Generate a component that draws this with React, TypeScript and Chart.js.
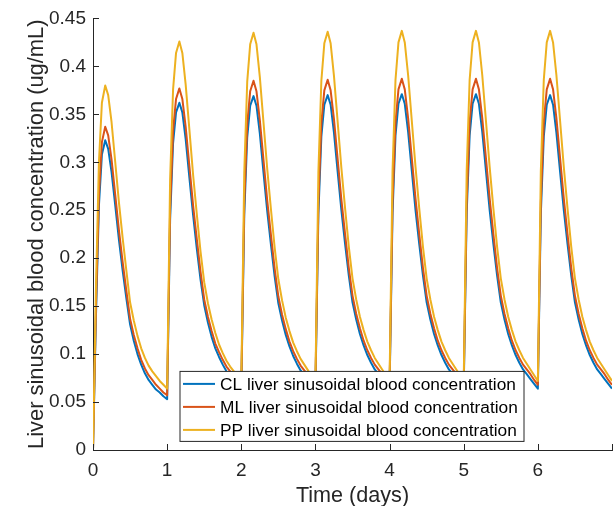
import React, { useEffect, useRef } from 'react';
import { Chart, registerables } from 'chart.js';

Chart.register(...registerables);

// Time offsets (days) within each daily dosing cycle
const cycleOffsets = [0, 0.04, 0.08, 0.12, 0.165, 0.205, 0.25, 0.3, 0.35, 0.4, 0.45, 0.5, 0.55, 0.6, 0.65, 0.7, 0.75, 0.8, 0.85, 0.9, 0.95];
const doseDays = [0, 1, 2, 3, 4, 5, 6];
const endDay = 7;

// CL liver sinusoidal blood concentration (ug/mL), one row per day
const clByDay = [
  [0, 0.14, 0.255, 0.308, 0.323, 0.314, 0.29, 0.255, 0.219, 0.187, 0.158, 0.131, 0.114, 0.1, 0.089, 0.08, 0.073, 0.068, 0.063, 0.06, 0.056],
  [0.053, 0.24, 0.32, 0.352, 0.362, 0.352, 0.324, 0.284, 0.245, 0.21, 0.178, 0.151, 0.133, 0.118, 0.106, 0.097, 0.089, 0.082, 0.077, 0.072, 0.067],
  [0.062, 0.245, 0.326, 0.359, 0.369, 0.359, 0.33, 0.289, 0.249, 0.214, 0.181, 0.153, 0.135, 0.12, 0.108, 0.098, 0.09, 0.083, 0.078, 0.073, 0.068],
  [0.064, 0.246, 0.327, 0.36, 0.37, 0.36, 0.331, 0.29, 0.25, 0.215, 0.182, 0.154, 0.136, 0.121, 0.109, 0.099, 0.091, 0.084, 0.079, 0.074, 0.069],
  [0.064, 0.247, 0.328, 0.361, 0.371, 0.361, 0.332, 0.291, 0.25, 0.215, 0.182, 0.154, 0.136, 0.121, 0.109, 0.099, 0.091, 0.084, 0.079, 0.074, 0.069],
  [0.064, 0.247, 0.328, 0.361, 0.371, 0.361, 0.332, 0.291, 0.25, 0.215, 0.182, 0.154, 0.136, 0.121, 0.109, 0.099, 0.091, 0.084, 0.079, 0.074, 0.069],
  [0.064, 0.246, 0.327, 0.36, 0.37, 0.36, 0.331, 0.29, 0.25, 0.215, 0.182, 0.154, 0.136, 0.121, 0.109, 0.099, 0.091, 0.084, 0.079, 0.074, 0.069],
];
const clEnd = 0.064;

// ML liver sinusoidal blood concentration
const mlByDay = [
  [0, 0.15, 0.266, 0.321, 0.337, 0.328, 0.303, 0.266, 0.229, 0.196, 0.166, 0.137, 0.12, 0.106, 0.094, 0.085, 0.078, 0.073, 0.068, 0.064, 0.06],
  [0.057, 0.251, 0.333, 0.366, 0.377, 0.366, 0.337, 0.296, 0.255, 0.22, 0.186, 0.157, 0.139, 0.124, 0.111, 0.102, 0.094, 0.087, 0.082, 0.077, 0.071],
  [0.066, 0.256, 0.34, 0.374, 0.385, 0.374, 0.344, 0.302, 0.26, 0.224, 0.189, 0.16, 0.141, 0.126, 0.113, 0.103, 0.095, 0.088, 0.083, 0.078, 0.072],
  [0.068, 0.257, 0.341, 0.375, 0.386, 0.375, 0.345, 0.303, 0.261, 0.225, 0.19, 0.161, 0.142, 0.127, 0.114, 0.104, 0.096, 0.089, 0.084, 0.079, 0.073],
  [0.068, 0.258, 0.342, 0.376, 0.387, 0.376, 0.346, 0.304, 0.262, 0.225, 0.19, 0.161, 0.142, 0.127, 0.114, 0.104, 0.096, 0.089, 0.084, 0.079, 0.073],
  [0.068, 0.258, 0.342, 0.376, 0.387, 0.376, 0.346, 0.304, 0.262, 0.225, 0.19, 0.161, 0.142, 0.127, 0.114, 0.104, 0.096, 0.089, 0.084, 0.079, 0.073],
  [0.068, 0.258, 0.342, 0.376, 0.387, 0.376, 0.346, 0.304, 0.262, 0.225, 0.19, 0.161, 0.142, 0.127, 0.114, 0.104, 0.096, 0.089, 0.084, 0.079, 0.073],
];
const mlEnd = 0.068;

// PP liver sinusoidal blood concentration
const ppByDay = [
  [0, 0.17, 0.3, 0.362, 0.38, 0.37, 0.342, 0.3, 0.258, 0.221, 0.187, 0.154, 0.135, 0.119, 0.106, 0.096, 0.088, 0.082, 0.077, 0.072, 0.068],
  [0.064, 0.282, 0.376, 0.414, 0.426, 0.414, 0.381, 0.334, 0.287, 0.246, 0.207, 0.175, 0.153, 0.136, 0.122, 0.11, 0.101, 0.093, 0.087, 0.082, 0.076],
  [0.07, 0.289, 0.384, 0.423, 0.435, 0.423, 0.389, 0.341, 0.293, 0.251, 0.211, 0.178, 0.156, 0.138, 0.124, 0.112, 0.103, 0.095, 0.089, 0.083, 0.077],
  [0.072, 0.29, 0.385, 0.424, 0.436, 0.424, 0.39, 0.342, 0.294, 0.252, 0.212, 0.179, 0.157, 0.139, 0.125, 0.113, 0.104, 0.096, 0.09, 0.084, 0.078],
  [0.072, 0.291, 0.386, 0.425, 0.437, 0.425, 0.391, 0.343, 0.295, 0.252, 0.212, 0.179, 0.157, 0.139, 0.125, 0.113, 0.104, 0.096, 0.09, 0.084, 0.078],
  [0.072, 0.291, 0.386, 0.425, 0.437, 0.425, 0.391, 0.343, 0.295, 0.252, 0.212, 0.179, 0.157, 0.139, 0.125, 0.113, 0.104, 0.096, 0.09, 0.084, 0.078],
  [0.072, 0.291, 0.386, 0.425, 0.437, 0.425, 0.391, 0.343, 0.295, 0.252, 0.212, 0.179, 0.157, 0.139, 0.125, 0.113, 0.104, 0.096, 0.09, 0.084, 0.078],
];
const ppEnd = 0.072;

const seriesLabels = [
  'CL liver sinusoidal blood concentration',
  'ML liver sinusoidal blood concentration',
  'PP liver sinusoidal blood concentration',
];
const seriesColors = ['#0072BD', '#D95319', '#EDB120'];

const yTickLabels = ['0', '0.05', '0.1', '0.15', '0.2', '0.25', '0.3', '0.35', '0.4', '0.45'];
const xTickLabels = ['0', '1', '2', '3', '4', '5', '6', ''];
const xTitle = 'Time (days)';
const yTitle = 'Liver sinusoidal blood concentration (ug/mL)';

const FONT = "'Liberation Sans', Arial, sans-serif";
const AXIS_COLOR = '#262626';

function buildPoints(byDay: number[][], endValue: number) {
  const pts: { x: number; y: number }[] = [];
  doseDays.forEach((d, di) => {
    cycleOffsets.forEach((off, oi) => {
      pts.push({ x: d + off, y: byDay[di][oi] });
    });
  });
  pts.push({ x: endDay, y: endValue });
  return pts;
}

const overlayPlugin = {
  id: 'matlabOverlay',
  afterDatasetsDraw(chart: any) {
    const { ctx, chartArea, scales } = chart;
    const xs = scales.x;
    const ys = scales.y;
    ctx.save();
    ctx.strokeStyle = AXIS_COLOR;
    ctx.lineWidth = 1;
    ctx.beginPath();
    ys.ticks.forEach((t: any) => {
      const y = Math.round(ys.getPixelForValue(t.value)) + 0.5;
      ctx.moveTo(chartArea.left, y);
      ctx.lineTo(chartArea.left + 6, y);
    });
    xs.ticks.forEach((t: any) => {
      const x = Math.round(xs.getPixelForValue(t.value)) + 0.5;
      ctx.moveTo(x, chartArea.bottom);
      ctx.lineTo(x, chartArea.bottom - 6);
    });
    ctx.stroke();
    ctx.restore();
  },
  afterDraw(chart: any) {
    const { ctx, chartArea } = chart;
    const bx = chartArea.left + 87;
    const by = chartArea.top + 353;
    const bw = 344;
    const bh = 70;
    ctx.save();
    ctx.fillStyle = '#ffffff';
    ctx.fillRect(bx, by, bw, bh);
    ctx.strokeStyle = AXIS_COLOR;
    ctx.lineWidth = 1;
    ctx.strokeRect(bx, by, bw, bh);
    ctx.font = `17.3px ${FONT}`;
    ctx.textBaseline = 'middle';
    ctx.textAlign = 'left';
    seriesLabels.forEach((label, i) => {
      const rowY = by + 12.5 + i * 23;
      ctx.strokeStyle = seriesColors[i];
      ctx.lineWidth = 2;
      ctx.beginPath();
      ctx.moveTo(bx + 3, rowY);
      ctx.lineTo(bx + 35, rowY);
      ctx.stroke();
      ctx.fillStyle = '#000000';
      ctx.fillText(label, bx + 40, rowY + 1);
    });
    ctx.restore();
  },
};

export default function App() {
  const canvasRef = useRef<HTMLCanvasElement | null>(null);

  useEffect(() => {
    const canvas = canvasRef.current;
    if (!canvas) return;
    const datasets = [
      { data: buildPoints(clByDay, clEnd), order: 2 },
      { data: buildPoints(mlByDay, mlEnd), order: 1 },
      { data: buildPoints(ppByDay, ppEnd), order: 0 },
    ].map((d, i) => ({
      label: seriesLabels[i],
      data: d.data,
      order: d.order,
      borderColor: seriesColors[i],
      backgroundColor: seriesColors[i],
      borderWidth: 2,
      borderJoinStyle: 'round' as const,
      pointRadius: 0,
      fill: false,
      tension: 0,
    }));

    const chart = new Chart(canvas, {
      type: 'line',
      data: { datasets },
      options: {
        responsive: false,
        animation: false,
        devicePixelRatio: 1,
        layout: { padding: { top: 18, left: 0, right: 0, bottom: 0 }, autoPadding: false },
        plugins: {
          legend: { display: false },
          tooltip: { enabled: false },
        },
        scales: {
          x: {
            type: 'linear',
            min: 0,
            max: 7,
            afterFit: (s: any) => { s.height = 56; },
            grid: { display: false, drawTicks: false },
            border: { display: true, color: AXIS_COLOR, width: 1 },
            ticks: {
              stepSize: 1,
              padding: 9,
              color: AXIS_COLOR,
              font: { family: FONT, size: 19 },
              maxRotation: 0,
              autoSkip: false,
              callback: (_v: any, i: number) => xTickLabels[i] ?? '',
            },
            title: {
              display: true,
              text: xTitle,
              color: AXIS_COLOR,
              font: { family: FONT, size: 21.6 },
              padding: { top: 0, bottom: -3 },
            },
          },
          y: {
            type: 'linear',
            min: 0,
            max: 0.45,
            afterFit: (s: any) => { s.width = 93; },
            grid: { display: false, drawTicks: false },
            border: { display: true, color: AXIS_COLOR, width: 1 },
            ticks: {
              stepSize: 0.05,
              padding: 7,
              color: AXIS_COLOR,
              font: { family: FONT, size: 19 },
              autoSkip: false,
              callback: (_v: any, i: number) => yTickLabels[i] ?? '',
            },
            title: {
              display: true,
              text: yTitle,
              color: AXIS_COLOR,
              font: { family: FONT, size: 21.9 },
              padding: { top: 24, bottom: 0 },
            },
          },
        },
      },
      plugins: [overlayPlugin],
    });
    return () => chart.destroy();
  }, []);

  return (
    <div style={{ position: 'fixed', left: 0, top: 0, width: 616, height: 506, overflow: 'hidden', background: '#fff' }}>
      <canvas ref={canvasRef} width={621} height={506} style={{ display: 'block', width: 621, height: 506 }} />
    </div>
  );
}
